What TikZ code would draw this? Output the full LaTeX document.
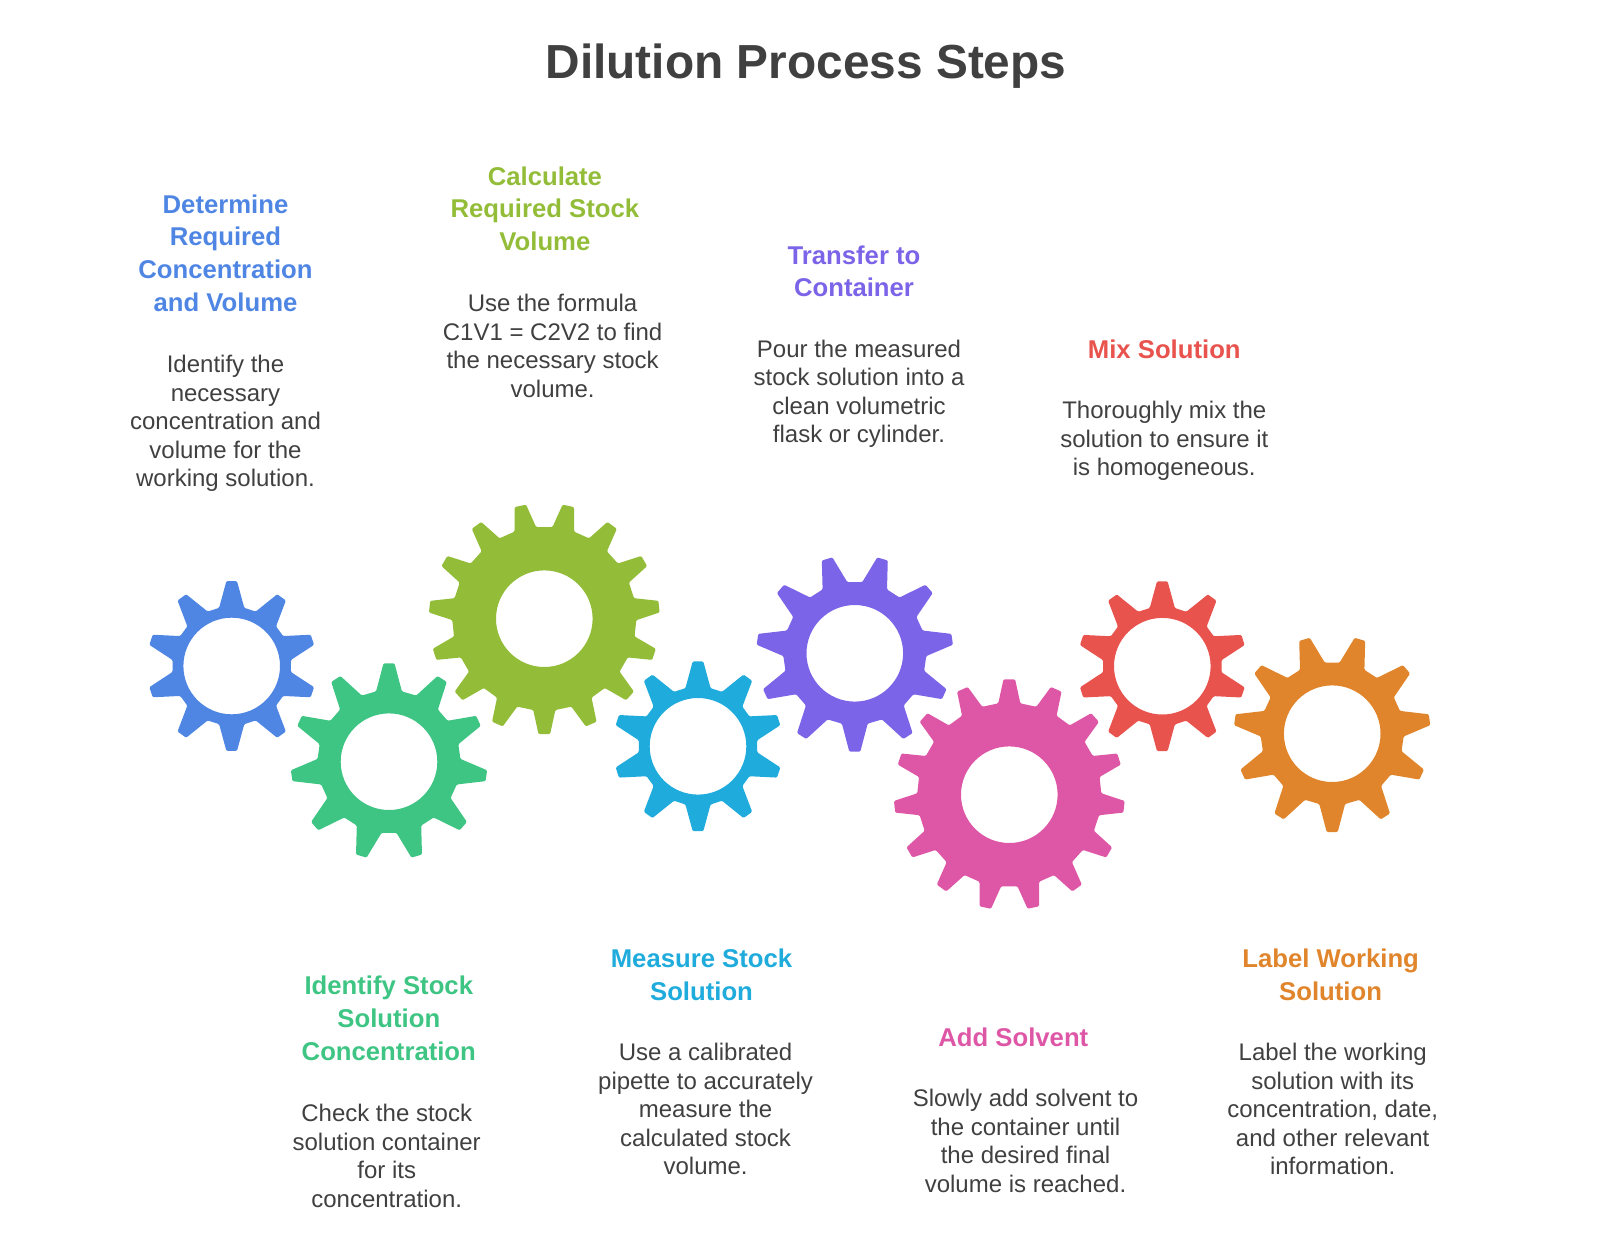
\documentclass[tikz,border=0pt]{standalone}
\usepackage{xcolor}
\usepackage{fontspec}
\setmainfont{Liberation Sans}
\usetikzlibrary{positioning}
\definecolor{inkgrey}{HTML}{404040}
\definecolor{gblue}{HTML}{4F86E4}
\definecolor{ggreen}{HTML}{3EC583}
\definecolor{golive}{HTML}{93BD39}
\definecolor{gcyan}{HTML}{1FABDB}
\definecolor{gpurple}{HTML}{7C64E8}
\definecolor{gpink}{HTML}{DE57A7}
\definecolor{gred}{HTML}{E8534E}
\definecolor{gorange}{HTML}{E0852B}
\tikzstyle{maintitle}=[font=\fontsize{47.8}{56}\selectfont\bfseries,text=inkgrey,inner sep=0pt]
\tikzstyle{steptitle}=[font=\fontsize{25.7}{32.65}\selectfont\bfseries,align=center,inner sep=0pt]
\tikzstyle{steptext}=[font=\fontsize{24}{28.57}\selectfont,text=inkgrey,align=center,inner sep=0pt]
\tikzset{gearfill/.style={even odd rule,rounded corners=1.2pt}}

\begin{document}
\begin{tikzpicture}[x=1pt,y=-1pt]

  \useasboundingbox (0,0) rectangle (1600,1239);

  % gears: centre, tooth count, outer and root radius, tip and base half angle, phase
  \foreach \x/\y/\n/\ro/\rr/\ta/\tb/\phase/\col in {
      231.7/666/10/85/59.5/3.6/12.2/90/gblue,
      389/761.7/11/98.5/71.5/3.2/10.4/-90/ggreen,
      544.3/618.7/15/115.5/92/2.9/6.9/90/golive,
      698/746.3/10/85/59.5/3.6/12.2/90/gcyan,
      854.8/653.3/11/98.5/71.5/3.2/10.4/90/gpurple,
      1009.3/794.7/15/115.5/92/2.9/6.9/-90/gpink,
      1162.3/666.2/10/85/59.5/3.6/12.2/90/gred,
      1332.2/733.7/11/98.5/71.5/3.2/10.4/90/gorange}
    \fill[gearfill,fill=\col,shift={(\x,\y)}] (\phase+180/\n:{\rr*cos(180/\n-\tb)})
        foreach \i [evaluate=\i as \a using \phase+\i*360/\n] in {1,...,\n}
          { -- (\a-\tb:\rr) -- (\a-\ta:\ro) -- (\a+\ta:\ro) -- (\a+\tb:\rr) }
        -- cycle (0,0) circle (48.3);

  \node[maintitle] (title) at (806,66) {Dilution Process Steps};

  \foreach \x/\y/\name/\col/\label in {
      225.5/253/T1/gblue/{Determine\\Required\\Concentration\\and Volume},
      388.8/1018.4/T2/ggreen/{Identify Stock\\Solution\\Concentration},
      544.9/208.6/T3/golive/{Calculate\\Required Stock\\Volume},
      701.5/974.5/T4/gcyan/{Measure Stock\\Solution},
      854/271.4/T5/gpurple/{Transfer to\\Container},
      1013.3/1037.2/T6/gpink/{Add Solvent},
      1164.3/349/T7/gred/{Mix Solution},
      1330.6/974.5/T8/gorange/{Label Working\\Solution}}
    \node[steptitle,text=\col] (\name) at (\x,\y) {\label};

  \foreach \x/\y/\name/\label in {
      225.5/423.4/D1/{Identify the\\necessary\\concentration and\\volume for the\\working solution.},
      386.7/1156.1/D2/{Check the stock\\solution container\\for its\\concentration.},
      552.6/345.9/D3/{Use the formula\\C1V1 = C2V2 to find\\the necessary stock\\volume.},
      705.6/1109.2/D4/{Use a calibrated\\pipette to accurately\\measure the\\calculated stock\\volume.},
      859/393.8/D5/{Pour the measured\\stock solution into a\\clean volumetric\\flask or cylinder.},
      1025.5/1140.8/D6/{Slowly add solvent to\\the container until\\the desired final\\volume is reached.},
      1164.3/440.8/D7/{Thoroughly mix the\\solution to ensure it\\is homogeneous.},
      1332.7/1109.2/D8/{Label the working\\solution with its\\concentration, date,\\and other relevant\\information.}}
    \node[steptext] (\name) at (\x,\y) {\label};

\end{tikzpicture}
\end{document}
